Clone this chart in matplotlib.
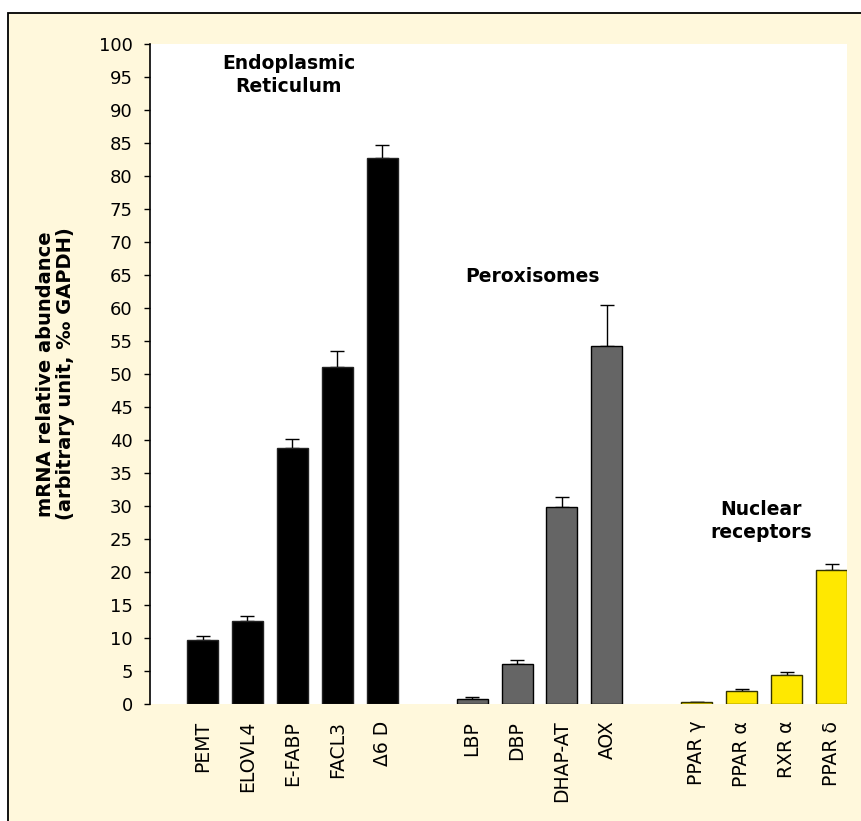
import numpy as np
import matplotlib
matplotlib.use('Agg')
import matplotlib.pyplot as plt
from matplotlib.patches import Rectangle

# --- data
er_labels = ['PEMT', 'ELOVL4', 'E-FABP', 'FACL3', 'Δ6 D']
er_values = [9.7, 12.6, 38.8, 51.1, 82.8]
er_errors = [0.65, 0.8, 1.4, 2.4, 1.9]

px_labels = ['LBP', 'DBP', 'DHAP-AT', 'AOX']
px_values = [0.7, 6.1, 29.85, 54.2]
px_errors = [0.3, 0.5, 1.45, 6.3]

nr_labels = ['PPAR γ', 'PPAR α', 'RXR α', 'PPAR δ']
nr_values = [0.3, 1.9, 4.45, 20.25]
nr_errors = [0.05, 0.3, 0.45, 1.0]

yticks = list(range(0, 101, 5))

CREAM = '#FFF8DC'
plt.rcParams['font.family'] = ['DejaVu Sans']

fig = plt.figure(figsize=(8.62, 8.21), dpi=100)
fig.patch.set_facecolor('white')
# framed cream panel (cropped on right/bottom)
frame = Rectangle((8/862, -0.1), 1.2, 1 - 13/821 + 0.1,
                  transform=fig.transFigure, facecolor=CREAM,
                  edgecolor='black', linewidth=1.3, zorder=-5)
fig.add_artist(frame)

ax = fig.add_axes([150/862, 117/821, 697/862, 660/821])
ax.set_zorder(2)
ax.set_facecolor('white')

groups = [(er_labels, er_values, er_errors, '#000000', '#222222'),
          (px_labels, px_values, px_errors, '#656565', '#000000'),
          (nr_labels, nr_values, nr_errors, '#FFE800', '#333300')]

pos = 0
all_x, all_lab = [], []
for labels, vals, errs, fc, ec in groups:
    x = np.arange(len(vals)) + pos
    ax.bar(x, vals, width=0.69, color=fc, edgecolor=ec, linewidth=1.0, zorder=2)
    ax.errorbar(x, vals, yerr=[np.zeros(len(errs)), errs], fmt='none',
                ecolor='black', elinewidth=1.0, capsize=5, capthick=1.0, zorder=1)
    all_x.extend(x)
    all_lab.extend(labels)
    pos += len(vals) + 1

ax.set_xlim(-1.17, 14.345)
ax.set_ylim(0, 100)
ax.set_yticks(yticks)
ax.tick_params(axis='y', direction='out', length=4, width=1, labelsize=13, pad=8.5)
ax.set_xticks(all_x)
ax.set_xticklabels(all_lab, rotation=90, fontsize=13.5)
ax.tick_params(axis='x', length=0, pad=12)

for s in ['top', 'right', 'bottom']:
    ax.spines[s].set_visible(False)
ax.spines['left'].set_linewidth(1.2)

ax.set_ylabel('mRNA relative abundance\n(arbitrary unit, ‰ GAPDH)',
              fontsize=14, fontweight='bold', linespacing=1.1)
ax.yaxis.set_label_coords(-0.107, 0.5)

# group headings
ax.text(1.92, 95.3, 'Endoplasmic\nReticulum', ha='center', va='center',
        fontsize=13.5, fontweight='bold', linespacing=1.25)
ax.text(7.35, 64.8, 'Peroxisomes', ha='center', va='center',
        fontsize=13.5, fontweight='bold')
ax.text(12.44, 27.7, 'Nuclear\nreceptors', ha='center', va='center',
        fontsize=13.5, fontweight='bold', linespacing=1.25)

fig.savefig('out.png', dpi=100)
